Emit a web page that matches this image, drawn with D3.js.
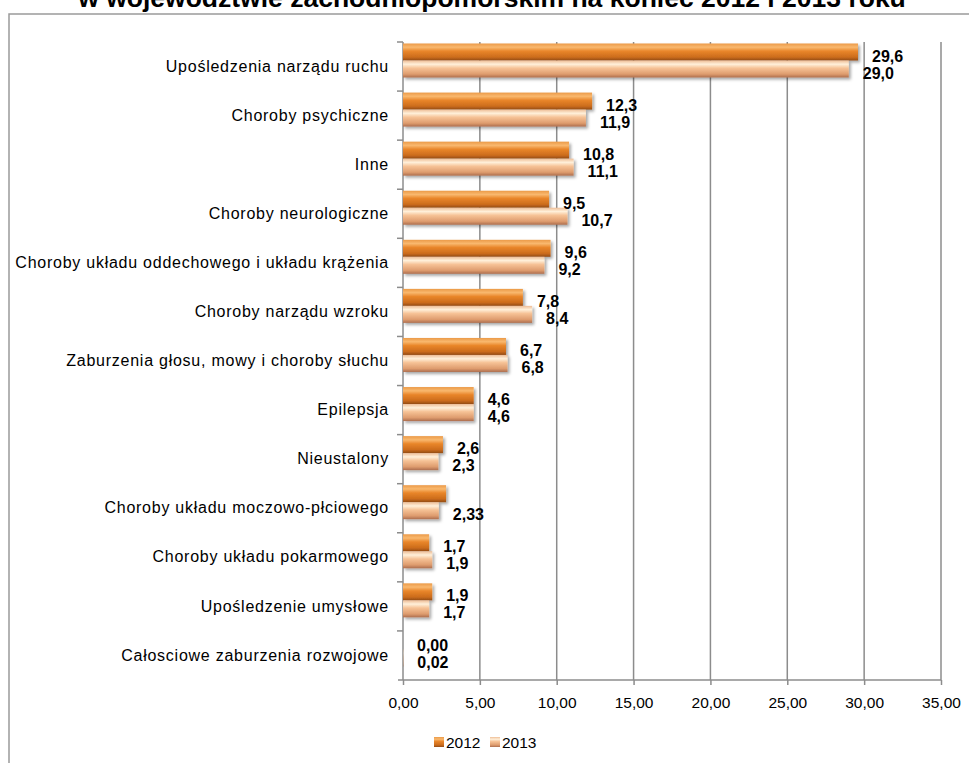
<!DOCTYPE html>
<html>
<head>
<meta charset="utf-8">
<script src="https://cdn.jsdelivr.net/npm/d3@7"></script>
<style>
  body { margin: 0; background: #fff; }
  text { font-family: "Liberation Sans", Arial, sans-serif; }
</style>
</head>
<body>
<svg id="chart"></svg>
<script>
//data
const categories = [
    'Upośledzenia narządu ruchu',
    'Choroby psychiczne',
    'Inne',
    'Choroby neurologiczne',
    'Choroby układu oddechowego i układu krążenia',
    'Choroby narządu wzroku',
    'Zaburzenia głosu, mowy i choroby słuchu',
    'Epilepsja',
    'Nieustalony',
    'Choroby układu moczowo-płciowego',
    'Choroby układu pokarmowego',
    'Upośledzenie umysłowe',
    'Całosciowe zaburzenia rozwojowe'
];
const series = ['2012', '2013'];
const values2012 = [29.6, 12.3, 10.8, 9.5, 9.6, 7.8, 6.7, 4.6, 2.6, 2.8, 1.7, 1.9, 0.0];
const values2013 = [29.0, 11.9, 11.1, 10.7, 9.2, 8.4, 6.8, 4.6, 2.3, 2.33, 1.9, 1.7, 0.02];
//labels as printed (the 2012 moczowo-plciowe bar has none)
const labels2012 = ['29,6', '12,3', '10,8', '9,5', '9,6', '7,8', '6,7', '4,6', '2,6', '', '1,7', '1,9', '0,00'];
const labels2013 = ['29,0', '11,9', '11,1', '10,7', '9,2', '8,4', '6,8', '4,6', '2,3', '2,33', '1,9', '1,7', '0,02'];
const xTicks = [0, 5, 10, 15, 20, 25, 30, 35];
const title = 'w województwie zachodniopomorskim na koniec 2012 i 2013 roku';

function buildChart() {
    const width = 969;
    const height = 763;
    const svg = d3.select('#chart').attr('width', width).attr('height', height);

    //gradients + shadow so the bars look like the excel ones
    const defs = svg.append('defs');
    const grads = {
        '2012': [['0%', '#eb9a48'], ['22%', '#f9b86e'], ['45%', '#e9862a'], ['80%', '#cc6c1c'], ['100%', '#944c16']],
        '2013': [['0%', '#eebd96'], ['22%', '#fff0da'], ['45%', '#f6c296'], ['80%', '#de9c6e'], ['100%', '#ad6e4e']]
    };
    series.forEach(s => {
        const g = defs.append('linearGradient').attr('id', 'g' + s)
            .attr('x1', 0).attr('y1', 0).attr('x2', 0).attr('y2', 1);
        grads[s].forEach(st => g.append('stop').attr('offset', st[0]).attr('stop-color', st[1]));
    });
    const shadow = defs.append('filter').attr('id', 'shadow')
        .attr('x', '-10%').attr('y', '-20%').attr('width', '130%').attr('height', '160%');
    shadow.append('feDropShadow').attr('dx', 2).attr('dy', 2).attr('stdDeviation', 1.5)
        .attr('flood-color', '#000').attr('flood-opacity', 0.35);

    //title, cut off at the top like in the picture
    svg.append('text')
        .attr('x', 492).attr('y', 7)
        .attr('text-anchor', 'middle')
        .attr('font-size', 26.5).attr('font-weight', 'bold')
        .text(title);

    //frame of the chart area (right and bottom run off the page)
    svg.append('rect')
        .attr('x', 9).attr('y', 14).attr('width', 975).attr('height', 770)
        .attr('fill', 'none').attr('stroke', '#9a9a9a').attr('stroke-width', 1.5);

    //scales
    const x = d3.scaleLinear().domain([0, 35]).range([403, 941]);
    const y = d3.scaleBand().domain(categories).range([42, 680]);
    const ySub = d3.scaleBand().domain(series).range([1.5, 35.5]);

    //grid lines
    svg.append('g')
        .selectAll('line')
        .data(xTicks.slice(1))
        .enter()
        .append('line')
        .attr('x1', d => x(d)).attr('x2', d => x(d))
        .attr('y1', 42).attr('y2', 680)
        .attr('stroke', '#8c8c8c').attr('stroke-width', 1.5);

    //x axis
    const xAxis = svg.append('g')
        .attr('transform', 'translate(0,680)')
        .call(d3.axisBottom(x).tickValues(xTicks).tickSize(5).tickSizeOuter(0)
            .tickFormat(d => d3.format('.2f')(d).replace('.', ',')));
    xAxis.select('.domain').attr('stroke', '#8c8c8c').attr('stroke-width', 1.5).attr('d', 'M398,0H941');
    xAxis.selectAll('.tick line').attr('stroke', '#8c8c8c').attr('stroke-width', 1.5);
    xAxis.selectAll('.tick text').attr('y', 17).attr('font-size', 15.5)
        .attr('font-family', '"Liberation Sans", Arial, sans-serif').attr('fill', '#000');

    //y axis
    const yAxis = svg.append('g')
        .attr('transform', 'translate(403,0)')
        .call(d3.axisLeft(y).tickSize(0).tickPadding(14));
    yAxis.select('.domain').attr('stroke', '#8c8c8c').attr('stroke-width', 1.5).attr('d', 'M0,42V680');
    //excel spreads the category letters out a bit
    yAxis.selectAll('.tick text').attr('font-size', 16).attr('letter-spacing', 0.75)
        .attr('font-family', '"Liberation Sans", Arial, sans-serif').attr('fill', '#000');
    //the small category ticks sit between the rows
    svg.append('g')
        .selectAll('line')
        .data(categories)
        .enter()
        .append('line')
        .attr('x1', 397).attr('x2', 403)
        .attr('y1', d => y(d)).attr('y2', d => y(d))
        .attr('stroke', '#8c8c8c').attr('stroke-width', 1.5);

    //bars
    const rows = categories.map((c, i) => ({
        cat: c,
        bars: [
            { s: '2012', v: values2012[i], label: labels2012[i] },
            { s: '2013', v: values2013[i], label: labels2013[i] }
        ]
    }));
    const rowGroups = svg.append('g')
        .selectAll('g')
        .data(rows)
        .enter()
        .append('g')
        .attr('transform', d => 'translate(0,' + y(d.cat) + ')');

    rowGroups.selectAll('rect')
        .data(d => d.bars)
        .enter()
        .append('rect')
        .attr('x', x(0))
        .attr('y', d => ySub(d.s))
        .attr('width', d => x(d.v) - x(0))
        .attr('height', ySub.bandwidth())
        .attr('fill', d => 'url(#g' + d.s + ')')
        .attr('filter', 'url(#shadow)');

    rowGroups.selectAll('text')
        .data(d => d.bars)
        .enter()
        .append('text')
        .attr('x', d => x(d.v) + 14)
        .attr('y', d => ySub(d.s) + ySub.bandwidth() / 2 + 4)
        .attr('dy', '0.35em')
        .attr('font-size', 16).attr('font-weight', 'bold')
        .text(d => d.label);

    //legend
    const legend = svg.append('g').attr('transform', 'translate(434,737)');
    const items = legend.selectAll('g')
        .data(series)
        .enter()
        .append('g')
        .attr('transform', (d, i) => 'translate(' + (i * 56) + ',0)');
    items.append('rect')
        .attr('width', 10).attr('height', 10)
        .attr('fill', d => 'url(#g' + d + ')');
    items.append('text')
        .attr('x', 12).attr('y', 10.5)
        .attr('font-size', 15.5)
        .text(d => d);
}

buildChart();
</script>
</body>
</html>
